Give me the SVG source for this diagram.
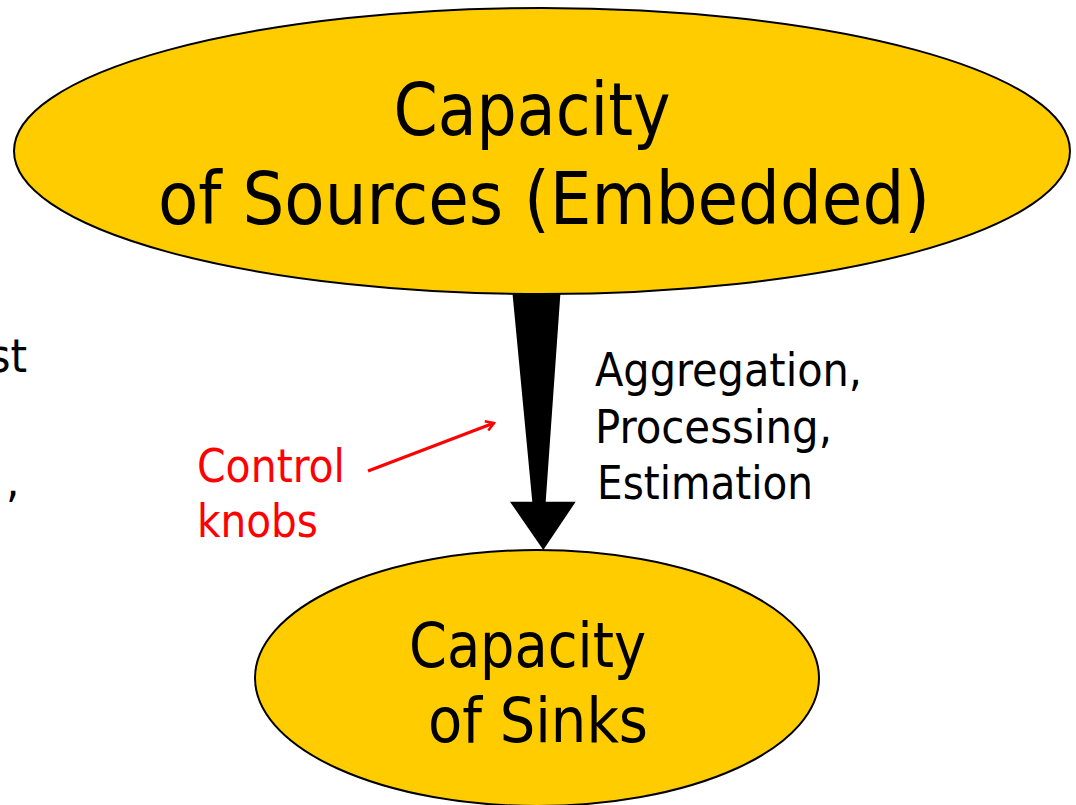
<svg xmlns="http://www.w3.org/2000/svg" width="1076" height="805" viewBox="0 0 1076 805">
  <style>
    text { font-family: "DejaVu Sans Condensed", "DejaVu Sans", sans-serif; font-stretch: condensed; }
    .node { fill: #FFCC00; stroke: #000; stroke-width: 2; }
    .big { font-size: 73px; fill: #000; }
    .mid { font-size: 63px; fill: #000; }
    .label { font-size: 47px; fill: #000; }
    .red { font-size: 47px; fill: #FF0000; }
  </style>
  <defs>
    <marker id="openArrow" markerWidth="12" markerHeight="12" refX="9" refY="5" orient="auto" markerUnits="userSpaceOnUse" viewBox="0 0 12 10">
      <path d="M1,0 L9,5 L1,10" fill="none" stroke="#FF0000" stroke-width="2.5"/>
    </marker>
  </defs>
  <rect width="1076" height="805" fill="#FFFFFF"/>

  <!-- text running in from the left margin -->
  <g id="margin-text">
    <text class="label" x="27" y="372" text-anchor="end">st</text>
    <text class="label" x="6" y="497">,</text>
  </g>

  <!-- connectors -->
  <g id="connectors">
    <polygon points="511.7,285 561,285 545.7,501.7 575.7,501.7 543.3,550 510,501.7 532.3,501.7" fill="#000"/>
    <line x1="368" y1="471" x2="494" y2="423" stroke="#FF0000" stroke-width="3" marker-end="url(#openArrow)"/>
  </g>

  <g id="sources">
    <ellipse class="node" cx="542" cy="151" rx="528" ry="143"/>
    <text class="big" x="532" y="135" text-anchor="middle" textLength="277" lengthAdjust="spacingAndGlyphs">Capacity</text>
    <text class="big" x="544" y="224" text-anchor="middle" textLength="772" lengthAdjust="spacingAndGlyphs">of Sources (Embedded)</text>
  </g>

  <g id="sinks">
    <ellipse class="node" cx="537" cy="678" rx="282" ry="128"/>
    <text class="mid" x="527.5" y="667" text-anchor="middle" textLength="237" lengthAdjust="spacingAndGlyphs">Capacity</text>
    <text class="mid" x="538" y="742" text-anchor="middle" textLength="220" lengthAdjust="spacingAndGlyphs">of Sinks</text>
  </g>

  <g id="process-label">
    <text class="label" x="595" y="386" textLength="267" lengthAdjust="spacingAndGlyphs">Aggregation,</text>
    <text class="label" x="595" y="443" textLength="237" lengthAdjust="spacingAndGlyphs">Processing,</text>
    <text class="label" x="597" y="499" textLength="216" lengthAdjust="spacingAndGlyphs">Estimation</text>
  </g>

  <g id="control-label">
    <text class="red" x="197" y="482" textLength="148" lengthAdjust="spacingAndGlyphs">Control</text>
    <text class="red" x="197" y="537" textLength="121" lengthAdjust="spacingAndGlyphs">knobs</text>
  </g>
</svg>
